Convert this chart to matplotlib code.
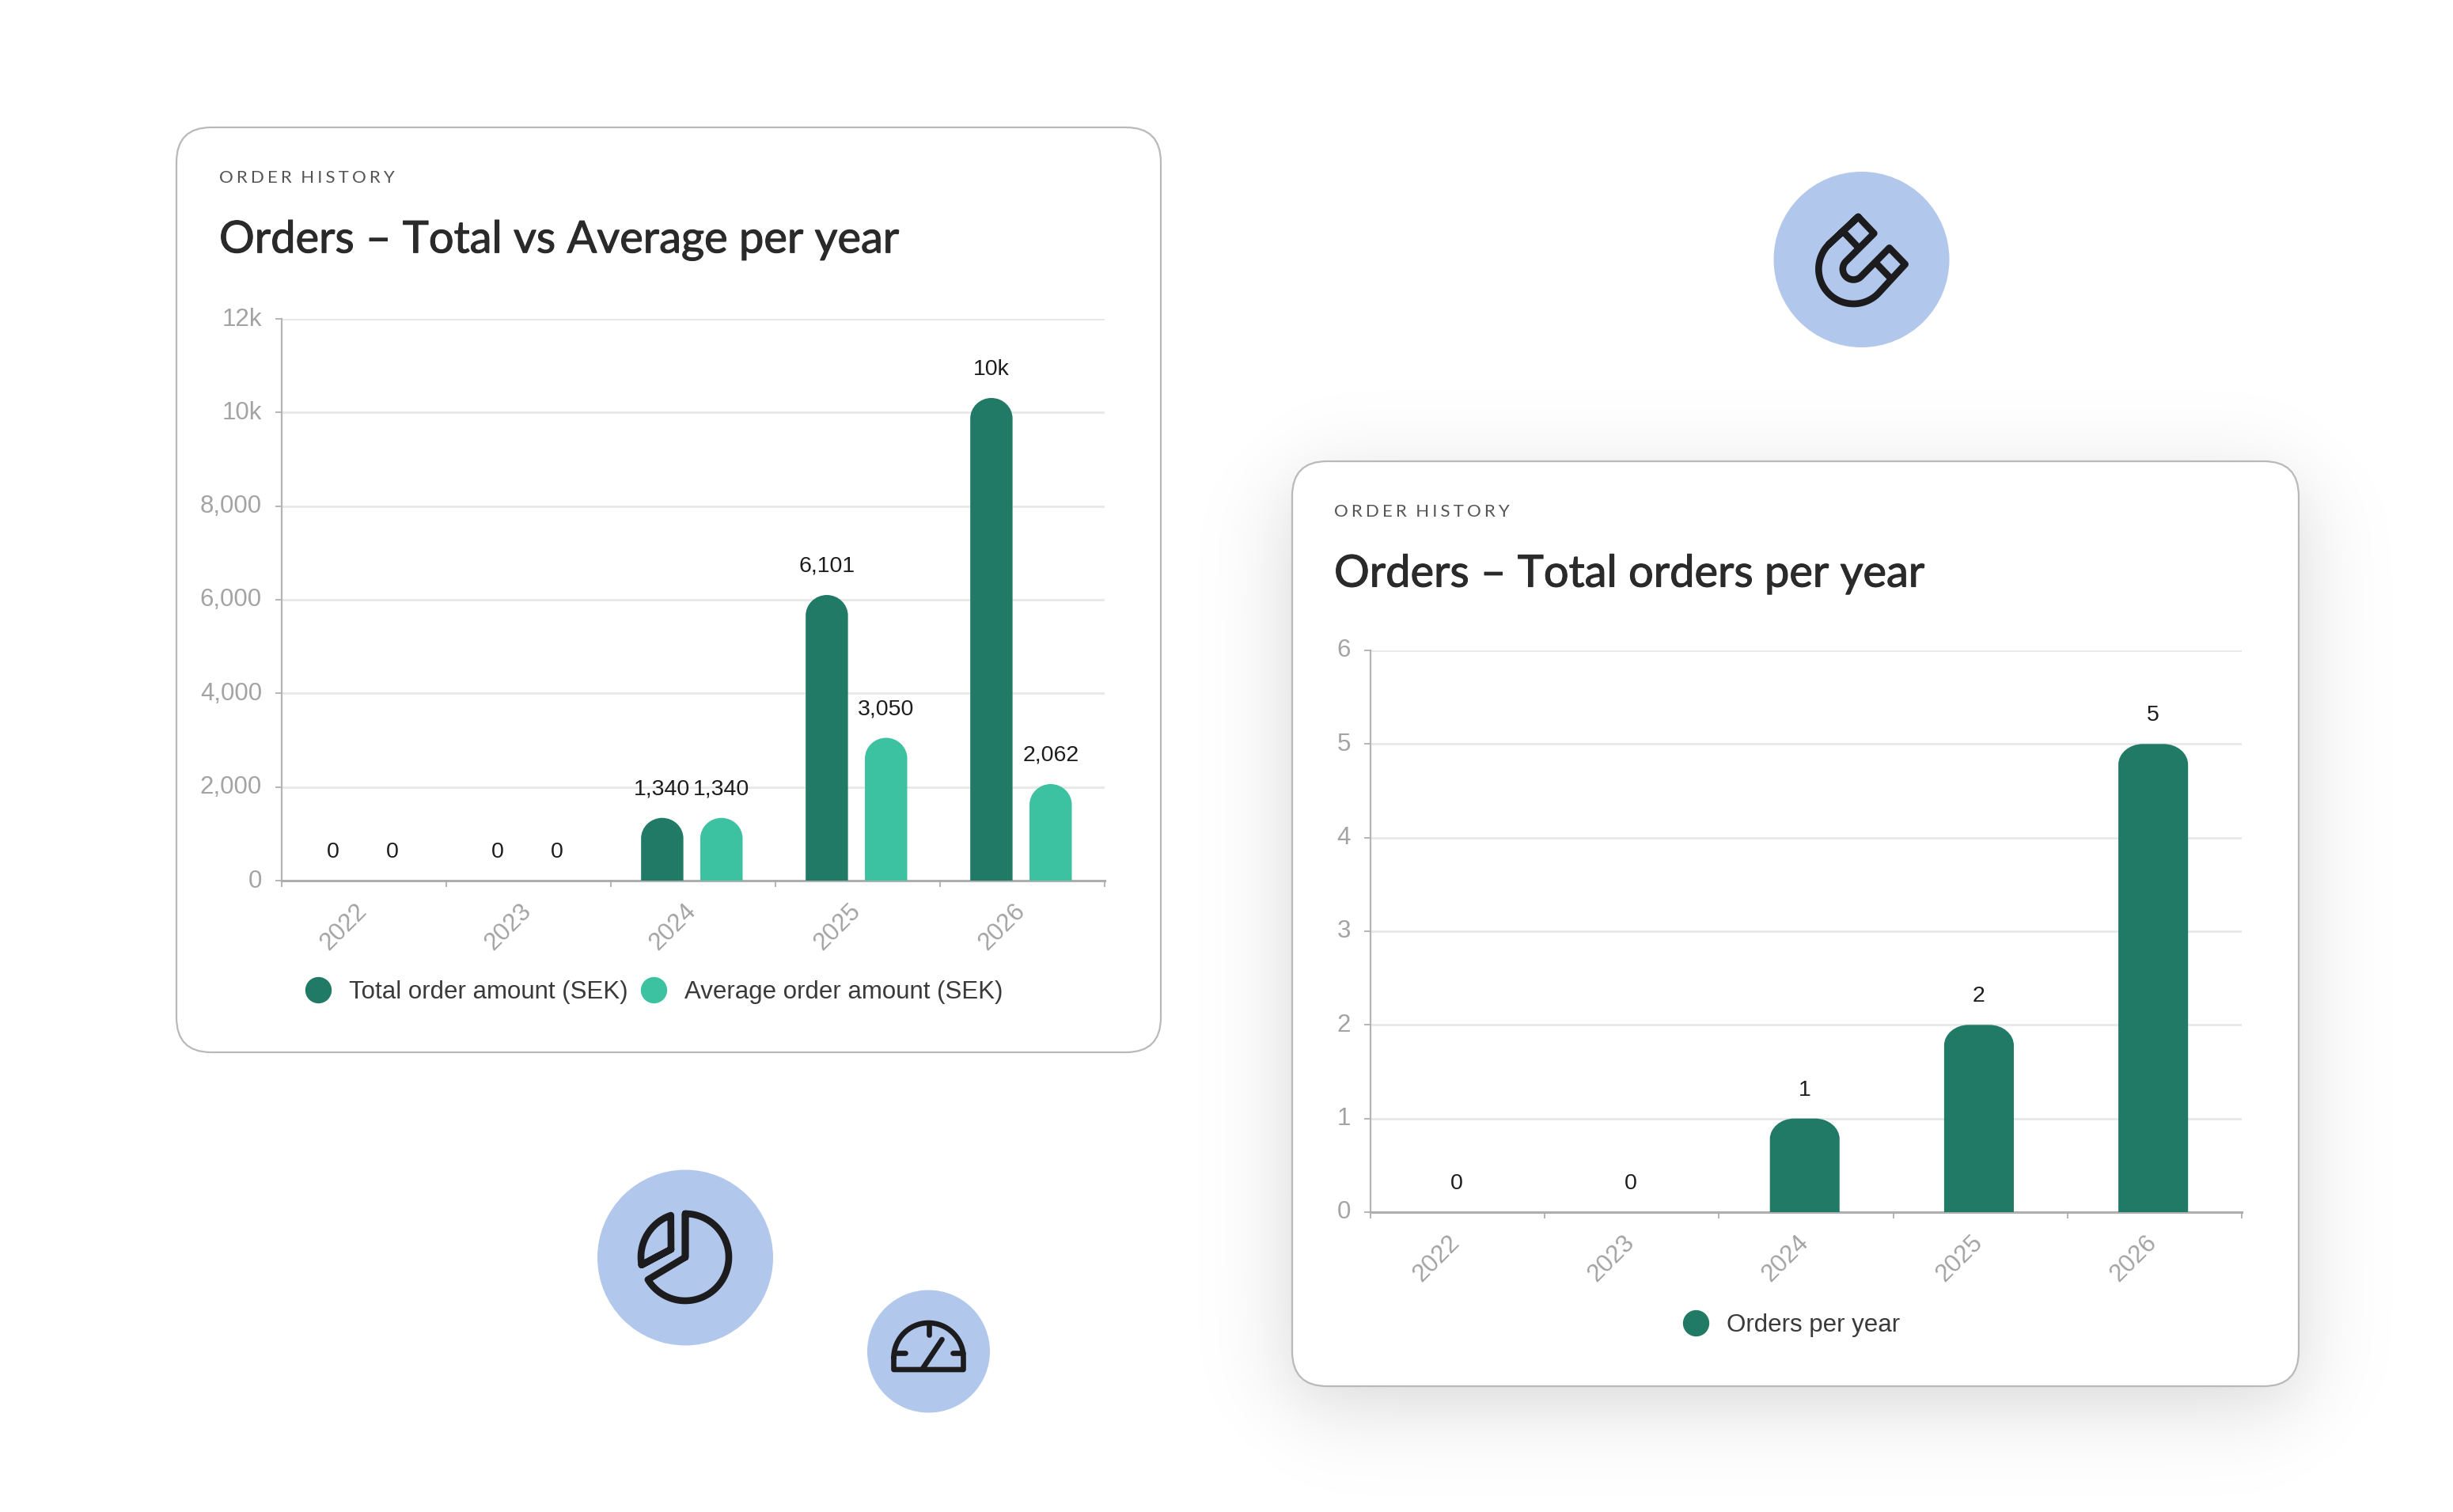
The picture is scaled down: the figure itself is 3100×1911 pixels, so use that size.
import numpy as np
import matplotlib
matplotlib.use('Agg')
import matplotlib.pyplot as plt
import matplotlib.patheffects as pe
from matplotlib.lines import Line2D
from matplotlib.patches import Circle, FancyBboxPatch, PathPatch
from matplotlib.path import Path
from matplotlib.transforms import ScaledTranslation

years = ['2022', '2023', '2024', '2025', '2026']
total_amount = [0, 0, 1340, 6101, 10310]
average_amount = [0, 0, 1340, 3050, 2062]
total_labels = ['0', '0', '1,340', '6,101', '10k']
average_labels = ['0', '0', '1,340', '3,050', '2,062']
orders_per_year = [0, 0, 1, 2, 5]
amount_ticks = [0, 2000, 4000, 6000, 8000, 10000, 12000]
amount_tick_labels = ['0', '2,000', '4,000', '6,000', '8,000', '10k', '12k']
order_ticks = [0, 1, 2, 3, 4, 5, 6]

DARK = '#217a65'
LIGHT = '#3cc2a0'
BLUE = '#b2c7ec'
INK = '#1c1c1e'
HAIR = '\u200a\u200a\u200a'
EYEBROW = HAIR.join('ORDER') + '  ' + HAIR.join('HISTORY')

W, H = 3100, 1911
fig = plt.figure(figsize=(W / 100, H / 100), dpi=100, facecolor='white')
plt.rcParams['font.family'] = ['Liberation Sans', 'DejaVu Sans']

# full page layer in pixels, for the cards and the round icons
page = fig.add_axes([0, 0, 1, 1], zorder=0)


def shadow(x0, y0, x1, y1, sigma=32, strength=0.17):
    xs = np.arange(x0 - 160, x1 + 160)
    ys = np.arange(y0 - 160, y1 + 160)
    s = lambda v: 1 / (1 + np.exp(-v / sigma))
    a = s(ys - y0)[:, None] * s(y1 - ys)[:, None] * s(xs - x0)[None, :] * s(x1 - xs)[None, :]
    img = np.zeros(a.shape + (4,))
    img[..., 3] = a * strength
    page.imshow(img, extent=(xs[0], xs[-1], ys[-1], ys[0]), aspect='auto', zorder=1)


def card(x0, y0, x1, y1):
    page.add_patch(FancyBboxPatch((x0, y0), x1 - x0, y1 - y0, boxstyle='round,pad=0,rounding_size=44',
                                  fc='white', ec='#b9b9b9', lw=1.6, zorder=2))


def stroke(points, lw=6.2, closed=False):
    pts = np.array(points, dtype=float)
    if closed:
        pts = np.vstack([pts, pts[0], pts[1]])
    page.plot(pts[:, 0], pts[:, 1], color=INK, lw=lw, solid_joinstyle='round', solid_capstyle='round', zorder=4)


def arc(cx, cy, r, a0, a1, n=60):
    t = np.radians(np.linspace(a0, a1, n))
    return np.column_stack([cx + r * np.cos(t), cy + r * np.sin(t)])


shadow(1633, 613, 2904, 1772)
card(223, 161, 1467, 1330)
card(1633, 583, 2905, 1752)

for cx, cy, r in [(2352.5, 328, 111), (866, 1589.5, 111), (1173.5, 1708, 77.5)]:
    page.add_patch(Circle((cx, cy), r, fc=BLUE, ec='none', zorder=3))

# magnet
mx, my = 2220, 190
m = lambda x, y: (mx + x / 3, my + y / 3)
inner = arc(*m(367, 450), 13.5, 45, 225, 30)
magnet = [m(385, 252)] + list(arc(*m(367, 450), 44, 225, 45, 70)) + [m(563, 432), m(503, 370)] + list(inner) + [m(445, 315)]
stroke(magnet, closed=True)
stroke([m(330, 310), m(385, 368)])
stroke([m(450, 425), m(505, 482)])

# pie
cx, cy = 866, 1589
stroke([(cx, cy)] + list(arc(cx, cy, 55, -90, 149, 80)), closed=True)
stroke([(cx - 18, cy - 10)] + list(arc(cx, cy, 56, 170, 251, 40)), closed=True)

# gauge
cx, cy = 1173.5, 1708
dome = list(arc(cx, cy + 8, 44, 180, 360, 60))
stroke(dome + [(cx + 44, cy + 23), (cx - 44, cy + 23), (cx - 44, cy + 8)], lw=4.8)
stroke([(cx, cy - 34), (cx, cy - 21)], lw=4.8)
stroke([(cx - 42, cy + 2), (cx - 30, cy + 2)], lw=4.8)
stroke([(cx + 30, cy + 2), (cx + 43, cy + 2)], lw=4.8)
stroke([(cx - 7, cy + 21), (cx + 17, cy - 15)], lw=4.8)

page.set_xlim(0, W)
page.set_ylim(H, 0)
page.axis('off')


def rounded_bar(ax, x, width, height, color, rx, ry):
    # bar with rounded top, drawn in data coordinates
    if height <= 0:
        return
    k = 0.5523
    l, r = x - width / 2, x + width / 2
    verts = [(l, 0), (l, height - ry),
             (l, height - ry + k * ry), (l + rx - k * rx, height), (l + rx, height),
             (r - rx, height),
             (r - rx + k * rx, height), (r, height - ry + k * ry), (r, height - ry),
             (r, 0), (l, 0)]
    codes = [Path.MOVETO, Path.LINETO,
             Path.CURVE4, Path.CURVE4, Path.CURVE4,
             Path.LINETO,
             Path.CURVE4, Path.CURVE4, Path.CURVE4,
             Path.LINETO, Path.CLOSEPOLY]
    ax.add_patch(PathPatch(Path(verts, codes), fc=color, ec='none', zorder=3))


def make_axes(left, top, right, bottom, ylim, ticks, tick_labels):
    ax = fig.add_axes([left / W, 1 - bottom / H, (right - left) / W, (bottom - top) / H], zorder=2)
    ax.patch.set_alpha(0)
    ax.set_xlim(0, len(years))
    ax.set_ylim(0, ylim)
    for side in ['top', 'right']:
        ax.spines[side].set_visible(False)
    ax.spines['left'].set_color('#b4b4b4')
    ax.spines['left'].set_linewidth(1.6)
    ax.spines['bottom'].set_color('#aeaeae')
    ax.spines['bottom'].set_linewidth(2.2)
    ax.set_yticks(ticks)
    ax.set_yticklabels(tick_labels, fontsize=22.5, color='#a3a3a3')
    ax.grid(axis='y', color='#e8e8e8', lw=2, zorder=1)
    ax.tick_params(axis='y', length=6, width=1.4, color='#b4b4b4', pad=12)
    for t in ax.get_yticklabels():
        t.set_transform(t.get_transform() + ScaledTranslation(0, 3 / 100, fig.dpi_scale_trans))
    ax.set_xticks(np.arange(len(years) + 1))
    ax.set_xticklabels([])
    ax.tick_params(axis='x', which='major', length=6, width=1.4, color='#b4b4b4')
    # labels end a little left of the category centre
    ax.set_xticks(np.arange(len(years)) + 0.444, minor=True)
    ax.set_xticklabels(years, minor=True, rotation=45, ha='right', va='top', rotation_mode='anchor',
                       fontsize=22.5, color='#a3a3a3')
    ax.tick_params(axis='x', which='minor', length=0, pad=17)
    return ax


def bar_label(ax, x, y, text):
    ax.annotate(text, (x, y), xytext=(0, 26), textcoords='offset points', ha='center', va='center',
                fontsize=20.5, color='#1c1c1c', zorder=5)


ax1 = make_axes(356, 403, 1396, 1113, 12000, amount_ticks, amount_tick_labels)
centers = np.arange(len(years)) + 0.492
for i, c in enumerate(centers):
    rounded_bar(ax1, c - 0.18, 0.257, total_amount[i], DARK, 0.1285, 440)
    rounded_bar(ax1, c + 0.18, 0.257, average_amount[i], LIGHT, 0.1285, 440)
    bar_label(ax1, c - 0.18, total_amount[i], total_labels[i])
    bar_label(ax1, c + 0.18, average_amount[i], average_labels[i])
handles = [Line2D([], [], ls='none', marker='o', ms=23, color=DARK, label='Total order amount (SEK)'),
           Line2D([], [], ls='none', marker='o', ms=23, color=LIGHT, label='Average order amount (SEK)')]
ax1.legend(handles=handles, ncol=2, loc='center', bbox_to_anchor=(0.453, -0.198), frameon=False,
           fontsize=22.5, labelcolor='#3a3a3a', handlelength=1, handletextpad=0.75, columnspacing=0.53)

ax2 = make_axes(1732, 822, 2833, 1532, 6, order_ticks, [str(v) for v in order_ticks])
for i, c in enumerate(centers):
    rounded_bar(ax2, c, 0.4, orders_per_year[i], DARK, 0.14, 0.22)
    bar_label(ax2, c, orders_per_year[i], str(orders_per_year[i]))
ax2.legend(handles=[Line2D([], [], ls='none', marker='o', ms=23, color=DARK, label='Orders per year')],
           loc='center', bbox_to_anchor=(0.483, -0.201), frameon=False, fontsize=22.5,
           labelcolor='#3a3a3a', handlelength=1, handletextpad=0.75)

# card headings sit on the page layer
bold = [pe.withStroke(linewidth=0.8, foreground='#2a2a2a')]
for x, y_small, y_title, title in [(277, 225, 304, 'Orders \u2013 Total vs Average per year'),
                                   (1686, 647, 726, 'Orders \u2013 Total orders per year')]:
    page.text(x, y_small, EYEBROW, family=['Lato', 'DejaVu Sans'], fontsize=16, color='#555555',
              va='center', zorder=5)
    page.text(x, y_title, title, family=['Lato', 'DejaVu Sans'], fontsize=40.3, color='#2a2a2a',
              va='center', zorder=5, path_effects=bold)

fig.savefig('out.png', dpi=100)
